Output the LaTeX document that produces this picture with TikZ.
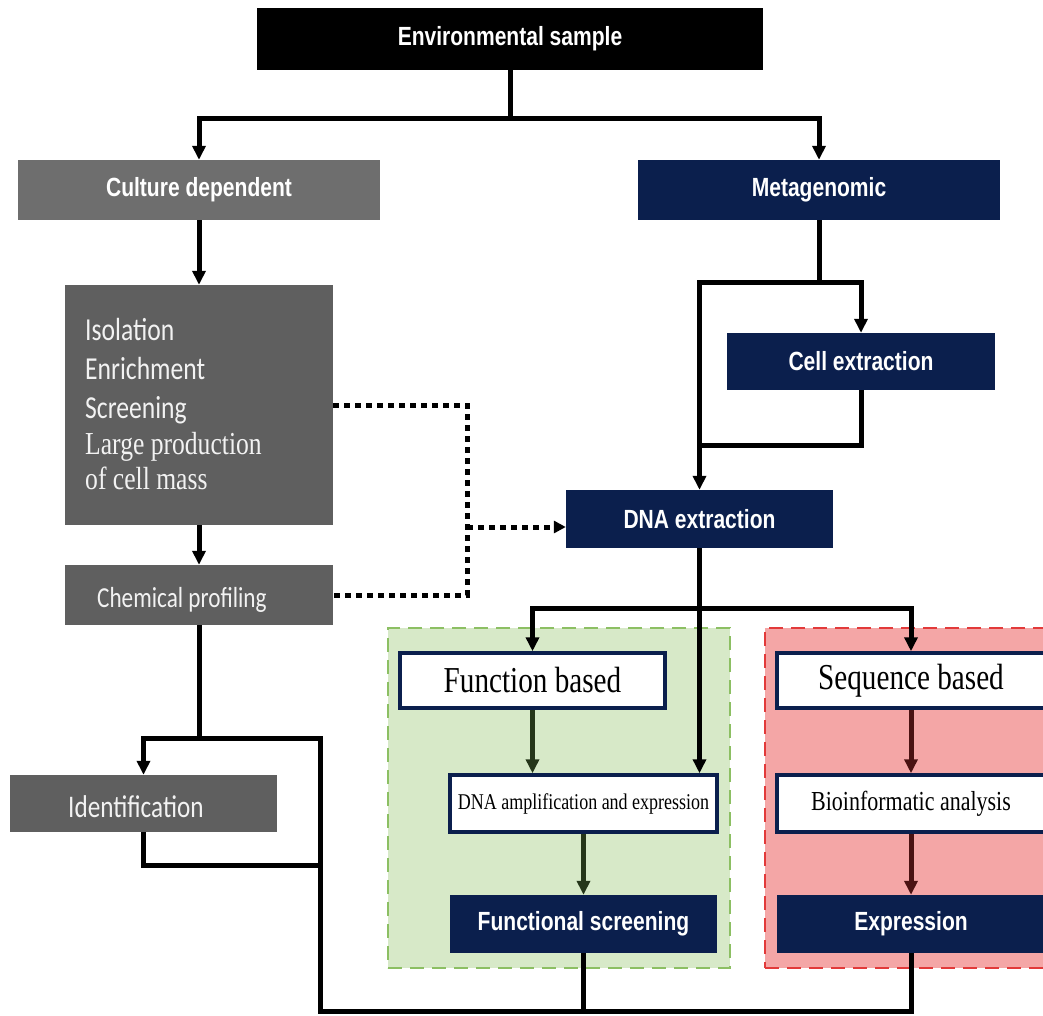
\documentclass[tikz,border=0pt]{standalone}
\usepackage{fontspec}
\setmainfont{Liberation Serif}
\newfontfamily\hdfont{Liberation Sans}[FakeStretch=0.8]
\newfontfamily\calfont{Carlito}[FakeStretch=0.8]
\newfontfamily\serfont{Liberation Serif}[FakeStretch=0.8]
\usetikzlibrary{arrows.meta}
\definecolor{navy}{HTML}{0B1F4D}
\definecolor{gA}{HTML}{6E6E6E}
\definecolor{gB}{HTML}{5F5F5F}
\definecolor{grfill}{HTML}{D7E9C8}
\definecolor{grline}{HTML}{8CBF63}
\definecolor{rdfill}{HTML}{F4A6A6}
\definecolor{rdline}{HTML}{E23A3A}
\definecolor{darkg}{HTML}{25361A}
\definecolor{darkr}{HTML}{4A1212}
\definecolor{lighttext}{HTML}{F2F2F2}
\begin{document}
\begin{tikzpicture}[x=1pt,y=-1pt,
  box/.style={rectangle, inner sep=0pt, text=white, align=center},
  hd/.style={font=\hdfont\bfseries\fontsize{26.3}{28}\selectfont},
  navybox/.style={box, hd, fill=navy},
  graybox/.style={box, fill=gB},
  whitebox/.style={box, fill=white, draw=navy, line width=3.5pt, text=black},
  region/.style={rectangle, inner sep=0pt, line width=2.5pt, dash pattern=on 14pt off 8pt},
  conn/.style={line width=5pt, line join=miter, draw=black},
  arr/.style={conn, -{Triangle[length=14pt,width=13pt]}},
  garr/.style={arr, draw=darkg, fill=darkg},
  rarr/.style={arr, draw=darkr, fill=darkr},
  dotline/.style={line width=5pt, draw=black, dash pattern=on 6pt off 5pt},
  dotarr/.style={dotline, -{Triangle[length=12pt,width=12pt]}},
  lefttext/.style={anchor=base west, inner sep=0pt, text=lighttext},
]
\clip (0,0) rectangle (1043,1015);
\fill[white] (0,0) rectangle (1043,1015);

% regions
\node[region, draw=grline, fill=grfill, minimum width=342pt, minimum height=340pt] (greg) at (559,798) {};
\node[region, draw=rdline, fill=rdfill, minimum width=290pt, minimum height=340pt] (rreg) at (910,798) {};

% boxes
\node[box, hd, fill=black, minimum width=506pt, minimum height=62pt] (env) at (510,39) {Environmental sample};
\node[box, hd, fill=gA, minimum width=362pt, minimum height=60pt] (cult) at (199,190) {Culture dependent};
\node[navybox, minimum width=362pt, minimum height=60pt] (meta) at (819,190) {Metagenomic};
\node[graybox, minimum width=268pt, minimum height=240pt] (big) at (199,405) {};
\node[lefttext, font=\calfont\fontsize{32}{34}\selectfont] (t1) at (85,340) {Isolation};
\node[lefttext, font=\calfont\fontsize{32}{34}\selectfont] (t2) at (85,379) {Enrichment};
\node[lefttext, font=\calfont\fontsize{32}{34}\selectfont] (t3) at (85,418) {Screening};
\node[lefttext, font=\serfont\fontsize{32}{34}\selectfont] (t4) at (85,454) {Large production};
\node[lefttext, font=\serfont\fontsize{32}{34}\selectfont] (t5) at (85,489) {of cell mass};
\node[graybox, minimum width=268pt, minimum height=60pt] (chem) at (199,595) {};
\node[lefttext, font=\calfont\fontsize{29}{31}\selectfont] (chemt) at (97,607) {Chemical profiling};
\node[graybox, minimum width=267pt, minimum height=57pt] (ident) at (143.5,803.5) {};
\node[lefttext, font=\calfont\fontsize{31.5}{33}\selectfont] (identt) at (68,817) {Identification};
\node[navybox, minimum width=268pt, minimum height=57pt] (cell) at (861,361.5) {Cell extraction};
\node[navybox, minimum width=267pt, minimum height=58pt] (dna) at (699.5,519) {DNA extraction};
\node[whitebox, font=\serfont\fontsize{36.5}{38}\selectfont, minimum width=265pt, minimum height=55pt] (fb) at (532.5,680.5) {Function based};
\node[whitebox, font=\serfont\fontsize{36.5}{38}\selectfont, minimum width=268pt, minimum height=55pt] (sb) at (911,680.5) {Sequence based};
\node[whitebox, font=\serfont\fontsize{22.5}{24}\selectfont, minimum width=267pt, minimum height=57pt] (amp) at (583.5,803.5) {DNA amplification and expression};
\node[whitebox, font=\serfont\fontsize{27.5}{29}\selectfont, minimum width=268pt, minimum height=57pt] (bio) at (911,803.5) {Bioinformatic analysis};
\node[navybox, minimum width=267pt, minimum height=58pt] (fs) at (583.5,924) {Functional screening};
\node[navybox, minimum width=268pt, minimum height=58pt] (exp) at (911,924) {Expression};

% junction coordinates
\coordinate (j1) at (510,118);
\coordinate (m1) at (819,282);
\coordinate (c1) at (700,445);
\coordinate (s1) at (699.5,608);
\coordinate (d1) at (467,405);
\coordinate (d2) at (467,595);
\coordinate (d3) at (467,527);
\coordinate (b1) at (320,1011);
\coordinate (b2) at (320,738);
\coordinate (b4) at (320,865);

% connectors
\draw[conn] (env.south) -- (j1);
\draw[arr] (j1) -| (cult.north);
\draw[arr] (j1) -| (meta.north);
\draw[arr] (cult.south) -- (big.north);
\draw[arr] (big.south) -- (chem.north);
\draw[conn] (meta.south) -- (m1);
\draw[arr] (m1) -| (cell.north);
\draw[arr] (m1) -| (dna.north);
\draw[conn] (cell.south) |- (c1);
\draw[dotline] (big.east) -- (d1) -- (d2) -- (chem.east);
\draw[dotarr] (d3) -- (dna.west |- d3);
\draw[arr] (dna.south) -- (dna.south |- amp.north);
\draw[arr] (s1) -| (fb.north);
\draw[arr] (s1) -| (sb.north);
\draw[garr] (fb.south) -- (fb.south |- amp.north);
\draw[garr] (amp.south) -- (fs.north);
\draw[rarr] (sb.south) -- (bio.north);
\draw[rarr] (bio.south) -- (exp.north);
\draw[conn] (chem.south) -- (chem.south |- b2);
\draw[arr] (exp.south) |- (b1) -- (b2) -| (ident.north);
\draw[conn] (fs.south) -- (fs.south |- b1);
\draw[conn] (ident.south) |- (b4);
\end{tikzpicture}
\end{document}
